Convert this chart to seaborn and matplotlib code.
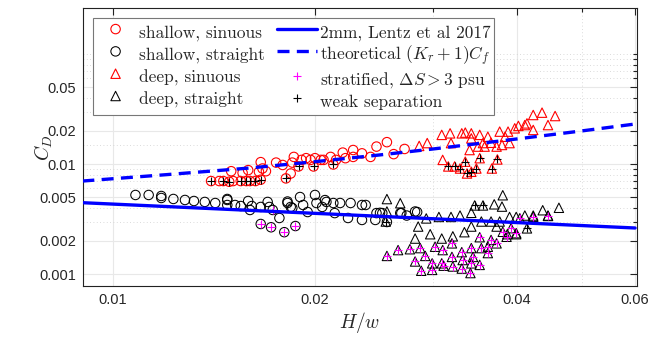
import matplotlib
matplotlib.use("Agg")
import matplotlib.pyplot as plt
import seaborn as sns
from matplotlib.ticker import FixedLocator, FixedFormatter, NullFormatter

# ---------------- data ----------------
ss_x = [0.0140, 0.0144, 0.0146, 0.0149, 0.0151, 0.0155, 0.0158, 0.0160, 0.0163, 0.0166,
        0.0150, 0.0156, 0.0159, 0.0165, 0.0166, 0.0167, 0.0169, 0.0175, 0.0179, 0.0181,
        0.0184, 0.0185, 0.0186, 0.0189, 0.0191, 0.0194, 0.0197, 0.0199, 0.0200, 0.0204,
        0.0206, 0.0211, 0.0213, 0.0215, 0.0220, 0.0222, 0.0228, 0.0228, 0.0235, 0.0242,
        0.0247, 0.0256, 0.0262, 0.0272]
ss_y = [0.0070, 0.0070, 0.0070, 0.0069, 0.0070, 0.0070, 0.0070, 0.0070, 0.0070, 0.0072,
        0.0086, 0.0083, 0.0088, 0.0085, 0.0104, 0.0091, 0.0086, 0.0103, 0.0098, 0.0074,
        0.0082, 0.0103, 0.0116, 0.0095, 0.0109, 0.0113, 0.0109, 0.0095, 0.0113, 0.0109,
        0.0109, 0.0116, 0.0099, 0.0109, 0.0127, 0.0113, 0.0134, 0.0116, 0.0125, 0.0116,
        0.0144, 0.0158, 0.0123, 0.0137]

st_x = [0.0108, 0.0113, 0.0118, 0.0118, 0.0123, 0.0128, 0.0132, 0.0137, 0.0142, 0.0148,
        0.0148, 0.0148, 0.0152, 0.0155, 0.0159, 0.0160, 0.0161, 0.0166, 0.0170, 0.0171,
        0.0173, 0.0177, 0.0182, 0.0182, 0.0184, 0.0185, 0.0190, 0.0192, 0.0195, 0.0200,
        0.0201, 0.0205, 0.0207, 0.0208, 0.0213, 0.0214, 0.0218, 0.0224, 0.0226, 0.0235,
        0.0235, 0.0238, 0.0246, 0.0247, 0.0250, 0.0252, 0.0256, 0.0268, 0.0269, 0.0274,
        0.0282, 0.0284, 0.0166, 0.0172, 0.0180, 0.0187]
st_y = [0.00523, 0.00523, 0.00512, 0.00491, 0.00481, 0.00471, 0.00461, 0.00452, 0.00442, 0.00471,
        0.00481, 0.00424, 0.00424, 0.00415, 0.00461, 0.00382, 0.00415, 0.00407, 0.00452, 0.00407,
        0.00382, 0.00323, 0.00442, 0.00456, 0.00407, 0.00398, 0.00501, 0.00424, 0.00366, 0.00523,
        0.00442, 0.00407, 0.00470, 0.00452, 0.00442, 0.00358, 0.00442, 0.00323, 0.00442, 0.00310,
        0.00424, 0.00424, 0.00310, 0.00358, 0.00360, 0.00358, 0.00297, 0.00358, 0.00358, 0.00340,
        0.00370, 0.00366, 0.00285, 0.00266, 0.00240, 0.00273]

ds_x = [0.0286, 0.0294, 0.0309, 0.0318, 0.0310, 0.0319, 0.0331, 0.0335, 0.0342, 0.0342,
        0.0352, 0.0362, 0.0356, 0.0366, 0.0340, 0.0358, 0.0377, 0.0380, 0.0384, 0.0388,
        0.0390, 0.0397, 0.0402, 0.0411, 0.0414, 0.0423, 0.0423, 0.0436, 0.0456, 0.0445,
        0.0373, 0.0350, 0.0316, 0.0323, 0.0329, 0.0335, 0.0337, 0.0342, 0.0348, 0.0352,
        0.0367, 0.0374]
ds_y = [0.0146, 0.0155, 0.0184, 0.0190, 0.0109, 0.0155, 0.0190, 0.0193, 0.0190, 0.0171,
        0.0184, 0.0177, 0.0155, 0.0156, 0.0134, 0.0144, 0.0197, 0.0149, 0.0177, 0.0197,
        0.0155, 0.0211, 0.0222, 0.0226, 0.0234, 0.0204, 0.0279, 0.0293, 0.0273, 0.0226,
        0.0144, 0.0144, 0.0095, 0.0095, 0.0091, 0.0105, 0.0082, 0.0085, 0.0091, 0.0113,
        0.0091, 0.0110]

dt_x = [0.0268, 0.0285, 0.0293, 0.0306, 0.0319, 0.0329, 0.0342, 0.0346, 0.0356, 0.0370,
        0.0381, 0.0380, 0.0282, 0.0297, 0.0309, 0.0321, 0.0334, 0.0342, 0.0354, 0.0366,
        0.0377, 0.0390, 0.0399, 0.0411, 0.0423, 0.0437, 0.0445, 0.0462, 0.0414, 0.0399,
        0.0387, 0.0373, 0.0256, 0.0256, 0.0255,
        0.0256, 0.0266, 0.0277, 0.0287, 0.0282, 0.0292, 0.0299, 0.0288, 0.0299, 0.0302,
        0.0310, 0.0320, 0.0309, 0.0311, 0.0320, 0.0321, 0.0331, 0.0332, 0.0331, 0.0342,
        0.0344, 0.0341, 0.0352, 0.0354, 0.0352, 0.0362, 0.0366, 0.0373, 0.0381, 0.0386,
        0.0392, 0.0399, 0.0404, 0.0423, 0.0445, 0.0362, 0.0342]
dt_y = [0.0044, 0.0027, 0.0032, 0.0033, 0.0033, 0.0034, 0.0036, 0.0042, 0.0042, 0.0043,
        0.0052, 0.0041, 0.0021, 0.0023, 0.0021, 0.0022, 0.0024, 0.0027, 0.0030, 0.0030,
        0.0030, 0.0033, 0.0033, 0.0034, 0.0034, 0.0038, 0.0034, 0.0040, 0.0026, 0.0023,
        0.0023, 0.0027, 0.0048, 0.0037, 0.0030,
        0.00146, 0.00165, 0.00168, 0.00172, 0.00130, 0.00146, 0.00125, 0.00107, 0.00109, 0.00177,
        0.00165, 0.00190, 0.00125, 0.00119, 0.00143, 0.00117, 0.00158, 0.00134, 0.00112, 0.00172,
        0.00143, 0.00102, 0.00216, 0.00172, 0.00121, 0.00177, 0.00204, 0.00190, 0.00242, 0.00218,
        0.00261, 0.00235, 0.00321, 0.00331, 0.00337, 0.00155, 0.00125]

strat_x = [0.0173, 0.0166, 0.0172, 0.0180, 0.0187,
           0.0256, 0.0266, 0.0277, 0.0287, 0.0282, 0.0292, 0.0299, 0.0288, 0.0299, 0.0302,
           0.0310, 0.0320, 0.0309, 0.0311, 0.0320, 0.0321, 0.0331, 0.0332, 0.0331, 0.0342,
           0.0344, 0.0341, 0.0352, 0.0354, 0.0352, 0.0362, 0.0366, 0.0373, 0.0381, 0.0386,
           0.0392, 0.0399, 0.0404, 0.0423, 0.0445, 0.0362, 0.0342]
strat_y = [0.00382, 0.00285, 0.00266, 0.00240, 0.00273,
           0.00146, 0.00165, 0.00168, 0.00172, 0.00130, 0.00146, 0.00125, 0.00107, 0.00109, 0.00177,
           0.00165, 0.00190, 0.00125, 0.00119, 0.00143, 0.00117, 0.00158, 0.00134, 0.00112, 0.00172,
           0.00143, 0.00102, 0.00216, 0.00172, 0.00121, 0.00177, 0.00204, 0.00190, 0.00242, 0.00218,
           0.00261, 0.00235, 0.00321, 0.00331, 0.00337, 0.00155, 0.00125]

weak_x = [0.0140, 0.0146, 0.0149, 0.0155, 0.0158, 0.0160, 0.0163, 0.0166, 0.0181, 0.0189,
          0.0199, 0.0213, 0.0316, 0.0323, 0.0329, 0.0335, 0.0337, 0.0342, 0.0348, 0.0352,
          0.0367, 0.0374, 0.0255, 0.0346, 0.0356, 0.0414]
weak_y = [0.0070, 0.0070, 0.0069, 0.0070, 0.0070, 0.0070, 0.0070, 0.0072, 0.0074, 0.0095,
          0.0095, 0.0099, 0.0095, 0.0095, 0.0091, 0.0105, 0.0082, 0.0085, 0.0091, 0.0113,
          0.0091, 0.0110, 0.0030, 0.0042, 0.0042, 0.0026]

lentz_x = [0.009, 0.06]
lentz_y = [0.00445, 0.00262]

theo_x = [0.009, 0.012, 0.016, 0.02, 0.025, 0.03, 0.04, 0.05, 0.06]
theo_y = [0.0070, 0.0080, 0.0092, 0.0105, 0.0121, 0.0137, 0.0169, 0.0200, 0.0231]

x_major = [0.01, 0.02, 0.04, 0.06]
x_major_labels = ["0.01", "0.02", "0.04", "0.06"]
x_minor = [0.03, 0.05]
y_major = [0.001, 0.002, 0.005, 0.01, 0.02, 0.05]
y_major_labels = ["0.001", "0.002", "0.005", "0.01", "0.02", "0.05"]
y_minor = [0.003, 0.004, 0.006, 0.007, 0.008, 0.009, 0.015, 0.03, 0.04,
           0.06, 0.07, 0.08, 0.09, 0.1]

labels = ["shallow, sinuous", "shallow, straight", "deep, sinuous", "deep, straight",
          "2mm, Lentz et al 2017", r"theoretical $(K_r+1)C_f$",
          r"stratified, $\Delta S > 3$ psu", "weak separation"]

# ---------------- figure ----------------
sns.set_theme(style="white")
plt.rcParams["font.family"] = ["Liberation Sans", "DejaVu Sans"]
plt.rcParams["mathtext.fontset"] = "cm"

W, H = 652, 337
fig = plt.figure(figsize=(W / 100, H / 100), dpi=100)
ax = fig.add_axes([83 / W, 1 - 286 / H, (637 - 83) / W, (286 - 8) / H])
ax.set_xscale("log")
ax.set_yscale("log")

ms = 46
sns.scatterplot(x=ss_x, y=ss_y, ax=ax, marker="o", s=ms, fc="none", ec="red",
                linewidth=0.8, label=labels[0], zorder=3)
sns.scatterplot(x=st_x, y=st_y, ax=ax, marker="o", s=ms, fc="none", ec="black",
                linewidth=0.75, label=labels[1], zorder=3)
sns.scatterplot(x=ds_x, y=ds_y, ax=ax, marker="^", s=ms, fc="none", ec="red",
                linewidth=0.8, label=labels[2], zorder=3)
sns.scatterplot(x=dt_x, y=dt_y, ax=ax, marker="^", s=ms, fc="none", ec="black",
                linewidth=0.75, label=labels[3], zorder=3)
sns.scatterplot(x=strat_x, y=strat_y, ax=ax, marker="+", s=40, color="magenta",
                linewidth=0.8, label=labels[6], zorder=4)
sns.scatterplot(x=weak_x, y=weak_y, ax=ax, marker="+", s=40, color="black",
                linewidth=0.8, label=labels[7], zorder=4)
sns.lineplot(x=lentz_x, y=lentz_y, ax=ax, color="blue", lw=2.4,
             label=labels[4], zorder=5)
sns.lineplot(x=theo_x, y=theo_y, ax=ax, color="blue", lw=2.4,
             linestyle=(0, (3.6, 2.2)), label=labels[5], zorder=5)

ax.set_xlim(0.00902, 0.0604)
ax.set_ylim(0.000778, 0.262)

ax.xaxis.set_major_locator(FixedLocator(x_major))
ax.xaxis.set_major_formatter(FixedFormatter(x_major_labels))
ax.xaxis.set_minor_locator(FixedLocator(x_minor))
ax.xaxis.set_minor_formatter(NullFormatter())
ax.yaxis.set_major_locator(FixedLocator(y_major))
ax.yaxis.set_major_formatter(FixedFormatter(y_major_labels))
ax.yaxis.set_minor_locator(FixedLocator(y_minor))
ax.yaxis.set_minor_formatter(NullFormatter())

ax.tick_params(which="both", direction="in", top=True, right=True,
               color="#222222", width=0.8, labelsize=10.5, labelcolor="#262626")
ax.tick_params(which="major", length=5, pad=5)
ax.tick_params(which="minor", length=3)
ax.grid(which="major", color="#e8e8e8", lw=0.8, ls="-")
ax.grid(which="minor", color="#cfcfcf", lw=0.6, ls=(0, (1, 3)))
ax.set_axisbelow(True)
for sp in ax.spines.values():
    sp.set_color("#222222")
    sp.set_linewidth(0.8)

ax.set_xlabel("$H/w$", fontsize=14, color="#262626", labelpad=2)
ax.set_ylabel("$C_D$", fontsize=14, color="#262626")
ax.yaxis.set_label_coords((55 - 83) / (637 - 83), (286 - 148) / (286 - 8))

h, l = ax.get_legend_handles_labels()
hd = dict(zip(l, h))
order = [labels[0], labels[1], labels[2], labels[3],
         labels[4], labels[5], labels[6], labels[7]]
leg = ax.legend([hd[k] for k in order], order, ncol=2, loc="upper left",
                bbox_to_anchor=(93 / W, 1 - 18 / H), bbox_transform=fig.transFigure,
                borderaxespad=0, fancybox=False, framealpha=1, edgecolor="#777777",
                prop={"family": "cmr10", "size": 12.5}, handlelength=2.3,
                handleheight=1.6, handletextpad=0.2, columnspacing=0.7,
                labelspacing=0.0, borderpad=0.15)
leg.get_frame().set_linewidth(0.8)

fig.savefig("out.png", dpi=100)
